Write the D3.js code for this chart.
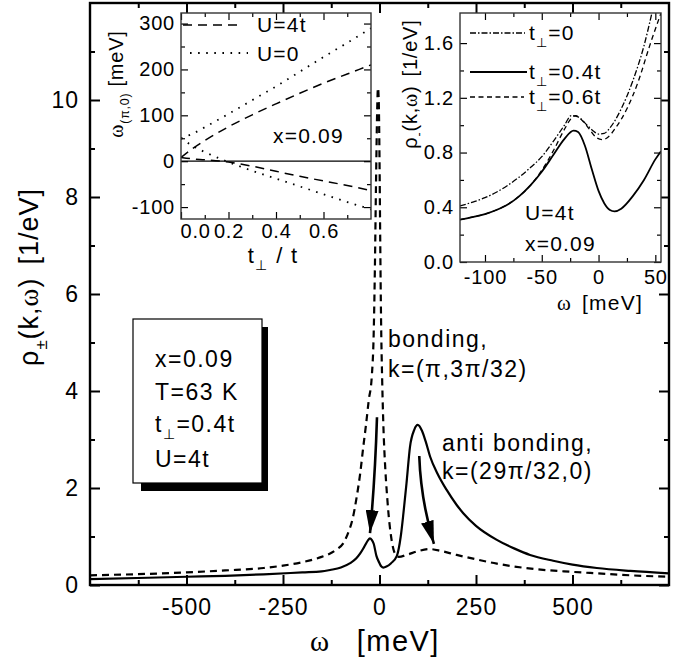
<!DOCTYPE html>
<html>
<head>
<meta charset="utf-8">
<script src="https://cdn.jsdelivr.net/npm/d3@7"></script>
<style>
  body { margin: 0; background: #fff; }
  text { font-family: "Liberation Sans", Arial, sans-serif; fill: #000; }
</style>
</head>
<body>
<svg id="chart" width="678" height="663"></svg>
<script>
// ---- main panel: rho_pm(k, omega) ----
let omegaSolid = [-750, -600, -500, -400, -300, -200, -150, -128, -100, -76, -60, -50, -40, -30, -25, -20, -15, -8, 0, 5, 10, 18, 30, 45, 55, 62, 70, 79, 90, 99, 110, 120, 131, 150, 174, 200, 217, 250, 304, 350, 390, 450, 500, 563, 650, 750];
let rhoSolid = [0.12, 0.15, 0.17, 0.19, 0.22, 0.26, 0.28, 0.31, 0.36, 0.45, 0.55, 0.65, 0.78, 0.92, 0.96, 0.93, 0.85, 0.6, 0.45, 0.38, 0.36, 0.38, 0.45, 0.6, 1.0, 1.48, 2.1, 2.85, 3.2, 3.3, 3.18, 2.95, 2.65, 2.3, 1.96, 1.65, 1.48, 1.22, 0.93, 0.75, 0.62, 0.5, 0.42, 0.35, 0.29, 0.24];

let omegaDashed = [-750, -600, -500, -400, -300, -250, -200, -150, -128, -110, -94, -80, -70, -59, -50, -42, -35, -28, -20, -15, -12, -9, -6, -4, -2, 0, 2, 4, 7, 10, 15, 20, 23, 30, 40, 50, 70, 100, 130, 160, 200, 250, 304, 400, 500, 563, 650, 750];
let rhoDashed = [0.2, 0.23, 0.26, 0.3, 0.35, 0.4, 0.47, 0.58, 0.65, 0.74, 0.86, 1.1, 1.35, 1.82, 2.3, 2.85, 3.3, 3.8, 4.3, 5.2, 6.5, 8.3, 9.8, 10.25, 10.0, 8.8, 7.0, 5.5, 4.2, 3.3, 2.4, 1.8, 1.5, 1.0, 0.65, 0.58, 0.62, 0.7, 0.74, 0.7, 0.62, 0.53, 0.44, 0.33, 0.27, 0.24, 0.2, 0.17];

let mainXTicks = [-500, -250, 0, 250, 500];
let mainXMinor = [-625, -375, -125, 125, 375, 625];
let mainYTicks = [0, 2, 4, 6, 8, 10];
let mainYMinor = [1, 3, 5, 7, 9, 11];

// ---- inset 1: omega_(pi,0) vs t_perp / t ----
let tPerp = [0, 0.05, 0.1, 0.2, 0.3, 0.4, 0.5, 0.6, 0.7, 0.8];
let u4Upper = [8, 28, 45, 75, 101, 125, 148, 170, 190, 210];
let u4Lower = [8, 5, 3, -2, -11, -22, -33, -43, -53, -64];
let u0Upper = [50, 60, 74, 103, 133, 163, 195, 227, 258, 290];
let u0Lower = [50, 33, 20, -2, -21, -38, -55, -72, -89, -105];
let in1XTicks = [0, 0.2, 0.4, 0.6];
let in1XMinor = [0.1, 0.3, 0.5, 0.7];
let in1YTicks = [-100, 0, 100, 200, 300];
let in1YMinor = [-50, 50, 150, 250];

// ---- inset 2: rho_-(k, omega) ----
let omegaT0 = [-122, -110, -100, -90, -80, -70, -60, -50, -40, -30, -24, -18, -10, -5, 0, 5, 10, 20, 30, 40, 47];
let rhoT0 = [0.41, 0.44, 0.47, 0.51, 0.56, 0.62, 0.69, 0.77, 0.88, 1.0, 1.07, 1.06, 1.0, 0.96, 0.935, 0.94, 0.98, 1.12, 1.32, 1.58, 1.82];
let omegaT04 = [-122, -110, -100, -90, -80, -70, -60, -50, -40, -30, -22, -18, -12, -6, 0, 5, 10, 14, 20, 30, 40, 50, 55];
let rhoT04 = [0.31, 0.33, 0.35, 0.38, 0.42, 0.48, 0.56, 0.66, 0.78, 0.9, 0.96, 0.95, 0.85, 0.68, 0.52, 0.43, 0.38, 0.37, 0.39, 0.48, 0.6, 0.75, 0.81];
let omegaT06 = [-122, -110, -100, -90, -80, -70, -60, -50, -40, -30, -24, -20, -15, -8, -2, 3, 8, 15, 25, 35, 45, 55];
let rhoT06 = [0.31, 0.33, 0.35, 0.38, 0.42, 0.48, 0.56, 0.67, 0.81, 0.97, 1.05, 1.07, 1.04, 0.97, 0.91, 0.895, 0.91, 0.98, 1.12, 1.32, 1.58, 1.82];
let in2XTicks = [-100, -50, 0, 50];
let in2XMinor = [-75, -25, 25];
let in2YTicks = [0, 0.4, 0.8, 1.2, 1.6];
let in2YMinor = [0.2, 0.6, 1.0, 1.4];

let svg = d3.select("#chart");

// arrow head
svg.append("defs").append("marker")
  .attr("id", "head")
  .attr("viewBox", "0 0 10 10")
  .attr("refX", 10).attr("refY", 5)
  .attr("markerWidth", 23).attr("markerHeight", 13)
  .attr("markerUnits", "userSpaceOnUse")
  .attr("preserveAspectRatio", "none")
  .attr("orient", "auto")
  .append("path").attr("d", "M0,0L10,5L0,10Z").attr("fill", "#000");

// text with subscripts / serif omega
function rich(g, parts, size, spacing) {
  let t = g.append("text").attr("font-size", size).attr("letter-spacing", spacing || 0);
  let shift = 0;
  parts.forEach(p => {
    if (typeof p === "string") p = { t: p };
    let s = t.append("tspan").text(p.t);
    let want = p.sub ? size * 0.32 : 0;
    if (want !== shift) s.attr("dy", want - shift);
    shift = want;
    if (p.sub) s.attr("font-size", size * 0.62);
    if (p.serif) s.style("font-family", "'Liberation Serif', 'Times New Roman', serif");
    if (p.dx) s.attr("dx", p.dx);
  });
  return t;
}

function frame(g, x, y, o) {
  let [x0, x1] = x.range(), [y0, y1] = y.range();
  let fmt = o.fmt;
  let noLab = () => "";
  let axes = [
    [d3.axisBottom(x).tickValues(o.xt).tickFormat(fmt.x), `translate(0,${y0})`, o.xPad, "bottom"],
    [d3.axisTop(x).tickValues(o.xt).tickFormat(noLab), `translate(0,${y1})`, 0, "top"],
    [d3.axisLeft(y).tickValues(o.yt).tickFormat(fmt.y), `translate(${x0},0)`, o.yPad, "left"],
    [d3.axisRight(y).tickValues(o.yt).tickFormat(noLab), `translate(${x1},0)`, 0, "right"]
  ];
  axes.forEach(([ax, tr, pad, side]) => {
    let a = g.append("g").attr("transform", tr)
      .call(ax.tickSizeInner(-o.major).tickSizeOuter(0).tickPadding(pad));
    a.select(".domain").remove();
    a.selectAll("line").attr("stroke", "#000").attr("stroke-width", o.tw);
    a.selectAll("text").attr("font-size", o.fs).attr("letter-spacing", o.ls)
      .style("font-family", "'Liberation Sans', Arial, sans-serif").attr("fill", "#000");
    a.attr("class", "ax-" + side);
  });
  let minors = [
    [d3.axisBottom(x).tickValues(o.xm), `translate(0,${y0})`],
    [d3.axisTop(x).tickValues(o.xm), `translate(0,${y1})`],
    [d3.axisLeft(y).tickValues(o.ym), `translate(${x0},0)`],
    [d3.axisRight(y).tickValues(o.ym), `translate(${x1},0)`]
  ];
  minors.forEach(([ax, tr]) => {
    let a = g.append("g").attr("transform", tr)
      .call(ax.tickSizeInner(-o.minor).tickSizeOuter(0).tickFormat(() => ""));
    a.select(".domain").remove();
    a.selectAll("line").attr("stroke", "#000").attr("stroke-width", o.tw);
  });
  g.append("rect")
    .attr("x", x0).attr("y", y1)
    .attr("width", x1 - x0).attr("height", y0 - y1)
    .attr("fill", "none").attr("stroke", o.stroke).attr("stroke-width", o.sw);
}

function curve(g, x, y, xs, ys, dash, w, clip) {
  let line = d3.line().x(d => x(d[0])).y(d => y(d[1])).curve(d3.curveMonotoneX);
  g.append("path")
    .datum(xs.map((v, i) => [v, ys[i]]))
    .attr("d", line)
    .attr("fill", "none")
    .attr("stroke", "#000")
    .attr("stroke-width", w)
    .attr("stroke-dasharray", dash)
    .attr("clip-path", clip ? `url(#${clip})` : null);
}

function clipRect(id, x, y) {
  svg.select("defs").append("clipPath").attr("id", id)
    .append("rect")
    .attr("x", x.range()[0]).attr("y", y.range()[1])
    .attr("width", x.range()[1] - x.range()[0])
    .attr("height", y.range()[0] - y.range()[1]);
}

// ================= main panel =================
let x = d3.scaleLinear().domain([-750, 750]).range([90, 669]);
let y = d3.scaleLinear().domain([0, 12]).range([585, 3]);
clipRect("clipMain", x, y);
let gMain = svg.append("g");

curve(gMain, x, y, omegaDashed, rhoDashed, "7,5", 2.2, "clipMain");
curve(gMain, x, y, omegaSolid, rhoSolid, null, 2.2, "clipMain");

frame(gMain, x, y, {
  xt: mainXTicks, xm: mainXMinor, yt: mainYTicks, ym: mainYMinor,
  fmt: { x: d3.format("d"), y: d3.format("d") },
  major: 10, minor: 5, tw: 2, fs: 23, ls: 1, xPad: 14, yPad: 11,
  stroke: "#000", sw: 2.4
});
gMain.selectAll(".ax-bottom text").text(d => (d < 0 ? "-" + Math.abs(d) : d));

// arrows (data coordinates)
let arrows = [
  { from: [-6.5, 3.46], ctrl: [-11.7, 2.16], to: [-24.6, 1.07] },
  { from: [103, 2.66], ctrl: [107, 1.75], to: [141, 0.85] }
];
arrows.forEach(a => {
  gMain.append("path")
    .attr("d", `M${x(a.from[0])},${y(a.from[1])}Q${x(a.ctrl[0])},${y(a.ctrl[1])} ${x(a.to[0])},${y(a.to[1])}`)
    .attr("fill", "none").attr("stroke", "#000").attr("stroke-width", 2.6)
    .attr("marker-end", "url(#head)");
});

// annotations
rich(gMain, ["bonding,"], 23, 1.5).attr("x", 388).attr("y", 347);
rich(gMain, ["k=(π,3π/32)"], 23, 1.5).attr("x", 388).attr("y", 377);
rich(gMain, ["anti bonding,"], 23, 1.5).attr("x", 442).attr("y", 451);
rich(gMain, ["k=(29π/32,0)"], 23, 1.5).attr("x", 442).attr("y", 479);

// parameter box with shadow
gMain.append("rect").attr("x", 141).attr("y", 327).attr("width", 127).attr("height", 164).attr("fill", "#000");
gMain.append("rect").attr("x", 133).attr("y", 319).attr("width", 129).attr("height", 164)
  .attr("fill", "#fff").attr("stroke", "#000").attr("stroke-width", 1.2);
rich(gMain, ["x=0.09"], 23, 1.5).attr("x", 155).attr("y", 367);
rich(gMain, ["T=63 K"], 23, 1.5).attr("x", 155).attr("y", 400);
rich(gMain, ["t", { t: "⊥", sub: true }, "=0.4t"], 23, 1.5).attr("x", 155).attr("y", 432);
rich(gMain, ["U=4t"], 23, 1.5).attr("x", 155).attr("y", 467);

// axis titles
rich(svg, [{ t: "ω", serif: true }, { t: "[meV]", dx: 26 }], 29, 1.5)
  .attr("x", 375).attr("y", 651).attr("text-anchor", "middle");
rich(svg, ["ρ", { t: "±", sub: true }, "(k,", { t: "ω", serif: true }, ")", { t: "[1/eV]", dx: 13 }], 27, 1)
  .attr("text-anchor", "middle")
  .attr("transform", "translate(38,277) rotate(-90)");

// ================= inset 1 =================
let x1 = d3.scaleLinear().domain([0, 0.8]).range([181, 371]);
let y1 = d3.scaleLinear().domain([-126, 323]).range([219, 13]);
clipRect("clip1", x1, y1);
let g1 = svg.append("g");
g1.append("rect").attr("x", 181).attr("y", 13).attr("width", 190).attr("height", 206).attr("fill", "#fff");
g1.append("line").attr("x1", x1(0)).attr("x2", x1(0.8)).attr("y1", y1(0)).attr("y2", y1(0))
  .attr("stroke", "#000").attr("stroke-width", 1.3);
curve(g1, x1, y1, tPerp, u4Upper, "9,6", 1.5, "clip1");
curve(g1, x1, y1, tPerp, u4Lower, "9,6", 1.5, "clip1");
curve(g1, x1, y1, tPerp, u0Upper, "1.6,6.5", 1.8, "clip1");
curve(g1, x1, y1, tPerp, u0Lower, "1.6,6.5", 1.8, "clip1");
frame(g1, x1, y1, {
  xt: in1XTicks, xm: in1XMinor, yt: in1YTicks, ym: in1YMinor,
  fmt: { x: d3.format(".1f"), y: d3.format("d") },
  major: 7, minor: 4, tw: 1.2, fs: 20, ls: 0.8, xPad: 5, yPad: 6,
  stroke: "#333", sw: 1.4
});
g1.selectAll(".ax-bottom .tick text").filter(d => d === 0).attr("text-anchor", "start").attr("x", -1);
g1.selectAll(".ax-left .tick text").text(d => (d < 0 ? "-" + Math.abs(d) : d));
// legend
g1.append("line").attr("x1", 183).attr("x2", 241).attr("y1", 25).attr("y2", 25)
  .attr("stroke", "#000").attr("stroke-width", 1.5).attr("stroke-dasharray", "9,6");
g1.append("line").attr("x1", 190).attr("x2", 248).attr("y1", 53).attr("y2", 53)
  .attr("stroke", "#000").attr("stroke-width", 1.8).attr("stroke-dasharray", "1.6,6.5");
rich(g1, ["U=4t"], 21, 1.2).attr("x", 257).attr("y", 32);
rich(g1, ["U=0"], 21, 1.2).attr("x", 257).attr("y", 61);
rich(g1, ["x=0.09"], 21, 1.2).attr("x", 273).attr("y", 143);
rich(svg, ["t", { t: "⊥", sub: true }, { t: "/ t", dx: 8 }], 22, 1.2)
  .attr("x", 273).attr("y", 263).attr("text-anchor", "middle");
rich(svg, [{ t: "ω", serif: true }, { t: "(π,0)", sub: true }, { t: "[meV]", dx: 6 }], 20, 0.8)
  .attr("text-anchor", "middle")
  .attr("transform", "translate(123,84) rotate(-90)");

// ================= inset 2 =================
let x2 = d3.scaleLinear().domain([-122, 55]).range([460, 661]);
let y2 = d3.scaleLinear().domain([0, 1.82]).range([262, 13]);
clipRect("clip2", x2, y2);
let g2 = svg.append("g");
g2.append("rect").attr("x", 460).attr("y", 13).attr("width", 201).attr("height", 249).attr("fill", "#fff");
curve(g2, x2, y2, omegaT0, rhoT0, "6,2,1.5,2", 1.3, "clip2");
curve(g2, x2, y2, omegaT06, rhoT06, "5,3.5", 1.3, "clip2");
curve(g2, x2, y2, omegaT04, rhoT04, null, 1.8, "clip2");
frame(g2, x2, y2, {
  xt: in2XTicks, xm: in2XMinor, yt: in2YTicks, ym: in2YMinor,
  fmt: { x: d3.format("d"), y: d3.format(".1f") },
  major: 7, minor: 4, tw: 1.2, fs: 20, ls: 0.8, xPad: 8, yPad: 6,
  stroke: "#333", sw: 1.4
});
g2.selectAll(".ax-bottom .tick text").text(d => (d < 0 ? "-" + Math.abs(d) : d));
// legend
g2.append("line").attr("x1", 470).attr("x2", 525).attr("y1", 33).attr("y2", 33)
  .attr("stroke", "#000").attr("stroke-width", 1.3).attr("stroke-dasharray", "6,2,1.5,2");
g2.append("line").attr("x1", 470).attr("x2", 527).attr("y1", 72).attr("y2", 72)
  .attr("stroke", "#000").attr("stroke-width", 1.8);
g2.append("line").attr("x1", 470).attr("x2", 524).attr("y1", 97).attr("y2", 97)
  .attr("stroke", "#000").attr("stroke-width", 1.3).attr("stroke-dasharray", "5,3.5");
rich(g2, ["t", { t: "⊥", sub: true }, "=0"], 21, 1.2).attr("x", 529).attr("y", 40);
rich(g2, ["t", { t: "⊥", sub: true }, "=0.4t"], 21, 1.2).attr("x", 529).attr("y", 79);
rich(g2, ["t", { t: "⊥", sub: true }, "=0.6t"], 21, 1.2).attr("x", 529).attr("y", 104);
rich(g2, ["U=4t"], 21, 1.2).attr("x", 525).attr("y", 220);
rich(g2, ["x=0.09"], 21, 1.2).attr("x", 525).attr("y", 251);
rich(svg, [{ t: "ω", serif: true }, { t: "[meV]", dx: 10 }], 21, 1.2)
  .attr("x", 600).attr("y", 310).attr("text-anchor", "middle");
rich(svg, ["ρ", { t: "-", sub: true }, "(k,", { t: "ω", serif: true }, ")", { t: "[1/eV]", dx: 9 }], 20, 0.8)
  .attr("text-anchor", "middle")
  .attr("transform", "translate(417,84) rotate(-90)");
</script>
</body>
</html>
